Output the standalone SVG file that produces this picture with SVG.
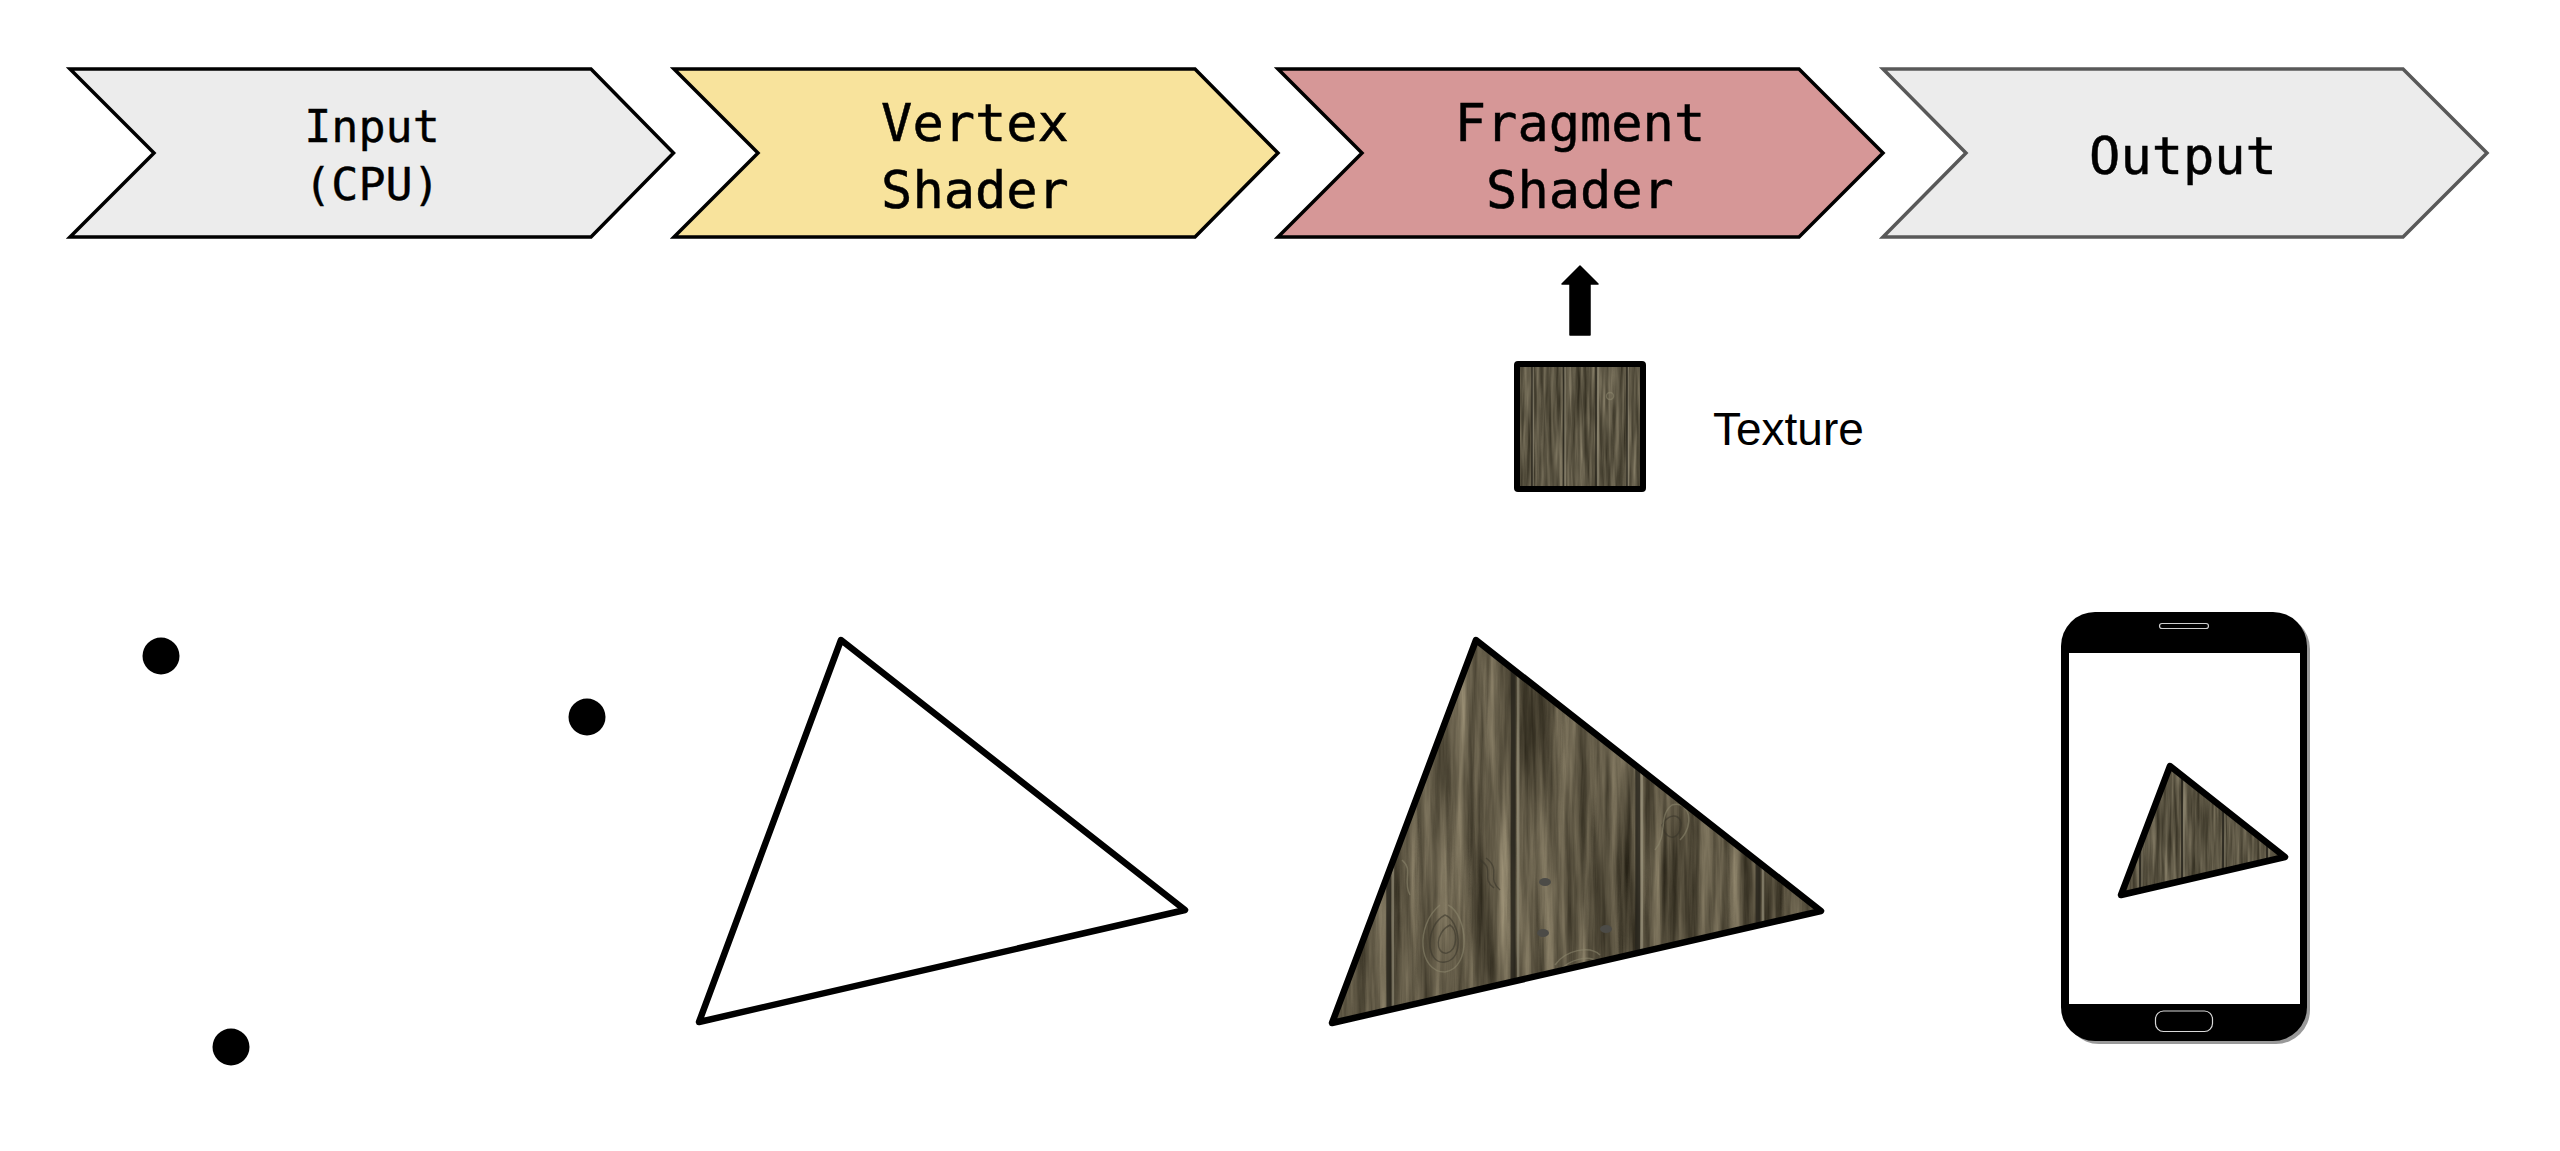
<svg xmlns="http://www.w3.org/2000/svg" width="2560" height="1151" viewBox="0 0 2560 1151">
<style>
.chev{stroke:#000;stroke-width:3.5;stroke-linejoin:miter}
.t1{font-family:"DejaVu Sans Mono","Liberation Mono",monospace;font-size:52px;text-anchor:middle;fill:#000;stroke:#000;stroke-width:.5}
.t2{font-family:"DejaVu Sans Mono","Liberation Mono",monospace;font-size:45px;text-anchor:middle;fill:#000;stroke:#000;stroke-width:.4}
.lab{font-family:"Liberation Sans",Arial,sans-serif;font-size:46px;fill:#000}
.dot{fill:#000}
.dark{stroke:#25231b;fill:none;stroke-opacity:.8}
.light{stroke:#a39d86;fill:none;stroke-opacity:.55}
.knot{stroke:#38342a;fill:none;stroke-width:1.5;stroke-opacity:.55}
.knotl{stroke:#8e8870;fill:none;stroke-width:1.5;stroke-opacity:.55}
.nail{fill:#4c4b47}
.edge{fill:none;stroke:#000;stroke-linejoin:round;stroke-width:6.5}
</style>
<defs>
<filter id="woodL" x="0" y="0" width="1" height="1" color-interpolation-filters="sRGB">
<feTurbulence type="fractalNoise" baseFrequency="0.09 0.005" numOctaves="5" seed="7"/>
<feColorMatrix type="matrix" values=".55 0 0 0 .1  .52 0 0 0 .085  .45 0 0 0 .045  0 0 0 0 1"/>
</filter>
<filter id="woodS" x="0" y="0" width="1" height="1" color-interpolation-filters="sRGB">
<feTurbulence type="fractalNoise" baseFrequency="0.25 0.014" numOctaves="3" seed="3"/>
<feColorMatrix type="matrix" values=".45 0 0 0 .13  .43 0 0 0 .115  .38 0 0 0 .07  0 0 0 0 1"/>
</filter>
<clipPath id="clipBig"><polygon points="1476,640 1821,911 1332,1023"/></clipPath>
<clipPath id="clipMini"><polygon points="2170,766 2285,857 2121,895"/></clipPath>
</defs>
<rect width="2560" height="1151" fill="#fff"/>

<g id="stage-input">
<polygon class="chev" fill="#ececec" points="70,69 591,69 673.5,153 591,237 70,237 154,153"/>
<text class="t2" x="372" y="142">Input</text>
<text class="t2" x="372" y="200">(CPU)</text>
</g>
<g id="stage-vertex">
<polygon class="chev" fill="#f8e39c" points="674,69 1195,69 1278,153 1195,237 674,237 758,153"/>
<text class="t1" x="975" y="141">Vertex</text>
<text class="t1" x="975" y="208">Shader</text>
</g>
<g id="stage-fragment">
<polygon class="chev" fill="#d69797" points="1278,69 1799,69 1883,153 1799,237 1278,237 1362,153"/>
<text class="t1" x="1580" y="141">Fragment</text>
<text class="t1" x="1580" y="208">Shader</text>
</g>
<g id="stage-output">
<polygon class="chev" style="stroke:#595959" fill="#ececec" points="1883,69 2403,69 2487,153 2403,237 1883,237 1966,153"/>
<text class="t1" x="2183" y="174">Output</text>
</g>

<g id="connectors">
<polygon points="1580,266 1598,284 1590,284 1590,335 1570,335 1570,284 1562,284" fill="#000" stroke="#000" stroke-width="1.5" stroke-linejoin="round"/>
</g>

<g id="texture">
<rect x="1517" y="364" width="126" height="125" filter="url(#woodS)"/>
<path class="light" stroke-width="1.6" d="M1533,364V489M1628,364V489M1565,364V489M1598,364V489"/>
<path class="dark" stroke-width="1.6" d="M1563.5,364V489M1596,364V489M1627,364V489M1532,364V489"/>
<circle class="knotl" cx="1610" cy="396" r="3.5"/>
<rect x="1517" y="364" width="126" height="125" fill="none" stroke="#000" stroke-width="6" rx="1"/>
<text class="lab" x="1713" y="445">Texture</text>
</g>

<g id="points">
<ellipse class="dot" cx="161" cy="656" rx="18.5" ry="18.5"/>
<ellipse class="dot" cx="587" cy="717" rx="18.5" ry="18.5"/>
<ellipse class="dot" cx="231" cy="1047" rx="18.5" ry="18.5"/>
</g>

<g id="triangle-outline">
<polygon class="edge" fill="#fff" points="841,640 1185,910 699,1022"/>
</g>

<g id="triangle-textured">
<g clip-path="url(#clipBig)">
<rect x="1325" y="630" width="505" height="400" filter="url(#woodL)"/>
<path class="dark" stroke-width="5" d="M1513,630C1514,760 1512,880 1513,1030M1638,630C1637,760 1639,860 1637,1030M1389,630C1390,800 1388,900 1389,1030M1758,630V1030"/>
<path class="light" stroke-width="2.5" d="M1518,630C1519,760 1517,880 1518,1030M1642,630C1641,760 1643,860 1641,1030M1393,630C1394,800 1392,900 1393,1030M1763,630V1030"/>
<path class="knot" d="M1445,915C1425,925 1425,965 1445,962C1465,960 1460,920 1445,915ZM1450,925C1435,932 1435,955 1447,953C1458,950 1458,930 1450,925Z"/>
<path class="knotl" d="M1440,905C1415,925 1418,972 1445,972C1472,968 1468,915 1448,905"/>
<path class="knotl" d="M1555,965C1565,950 1590,945 1600,955M1558,972C1570,958 1590,955 1598,962"/>
<path class="knot" d="M1662,825C1670,810 1685,815 1680,830C1675,842 1665,838 1662,825Z"/>
<path class="knotl" d="M1655,850C1668,835 1658,815 1672,805C1690,800 1695,825 1680,840"/>
<path class="knot" d="M1480,860C1496,870 1480,878 1494,888M1486,858C1502,870 1486,878 1500,890"/>
<path class="knotl" d="M1402,860C1414,870 1402,880 1410,895"/>
<ellipse class="nail" cx="1545" cy="882" rx="6" ry="4"/>
<ellipse class="nail" cx="1543" cy="933" rx="6" ry="4"/>
<ellipse class="nail" cx="1606" cy="929" rx="6" ry="4"/>
</g>
<polygon class="edge" fill="none" points="1476,640 1821,911 1332,1023"/>
</g>

<g id="phone">
<rect x="2065" y="615" width="245" height="429" rx="34" fill="#999"/>
<rect x="2061" y="612" width="246" height="429" rx="34" fill="#000"/>
<rect x="2069" y="653" width="231" height="351" fill="#fff"/>
<rect x="2159.5" y="623.5" width="49" height="5" rx="2.5" fill="none" stroke="#cfcfcf" stroke-width="1.2"/>
<rect x="2155.5" y="1011" width="57" height="20.5" rx="8" fill="none" stroke="#d8d8d8" stroke-width="1.2"/>
<g clip-path="url(#clipMini)">
<rect x="2115" y="760" width="175" height="140" filter="url(#woodS)"/>
<path class="dark" stroke-width="2" d="M2182,760V900M2223,760V900M2140,760V900M2267,760V900"/>
<path class="light" stroke-width="1.2" d="M2184,760V900M2225,760V900M2142,760V900M2269,760V900"/>
</g>
<polygon class="edge" points="2170,766 2285,857 2121,895"/>
</g>
</svg>
